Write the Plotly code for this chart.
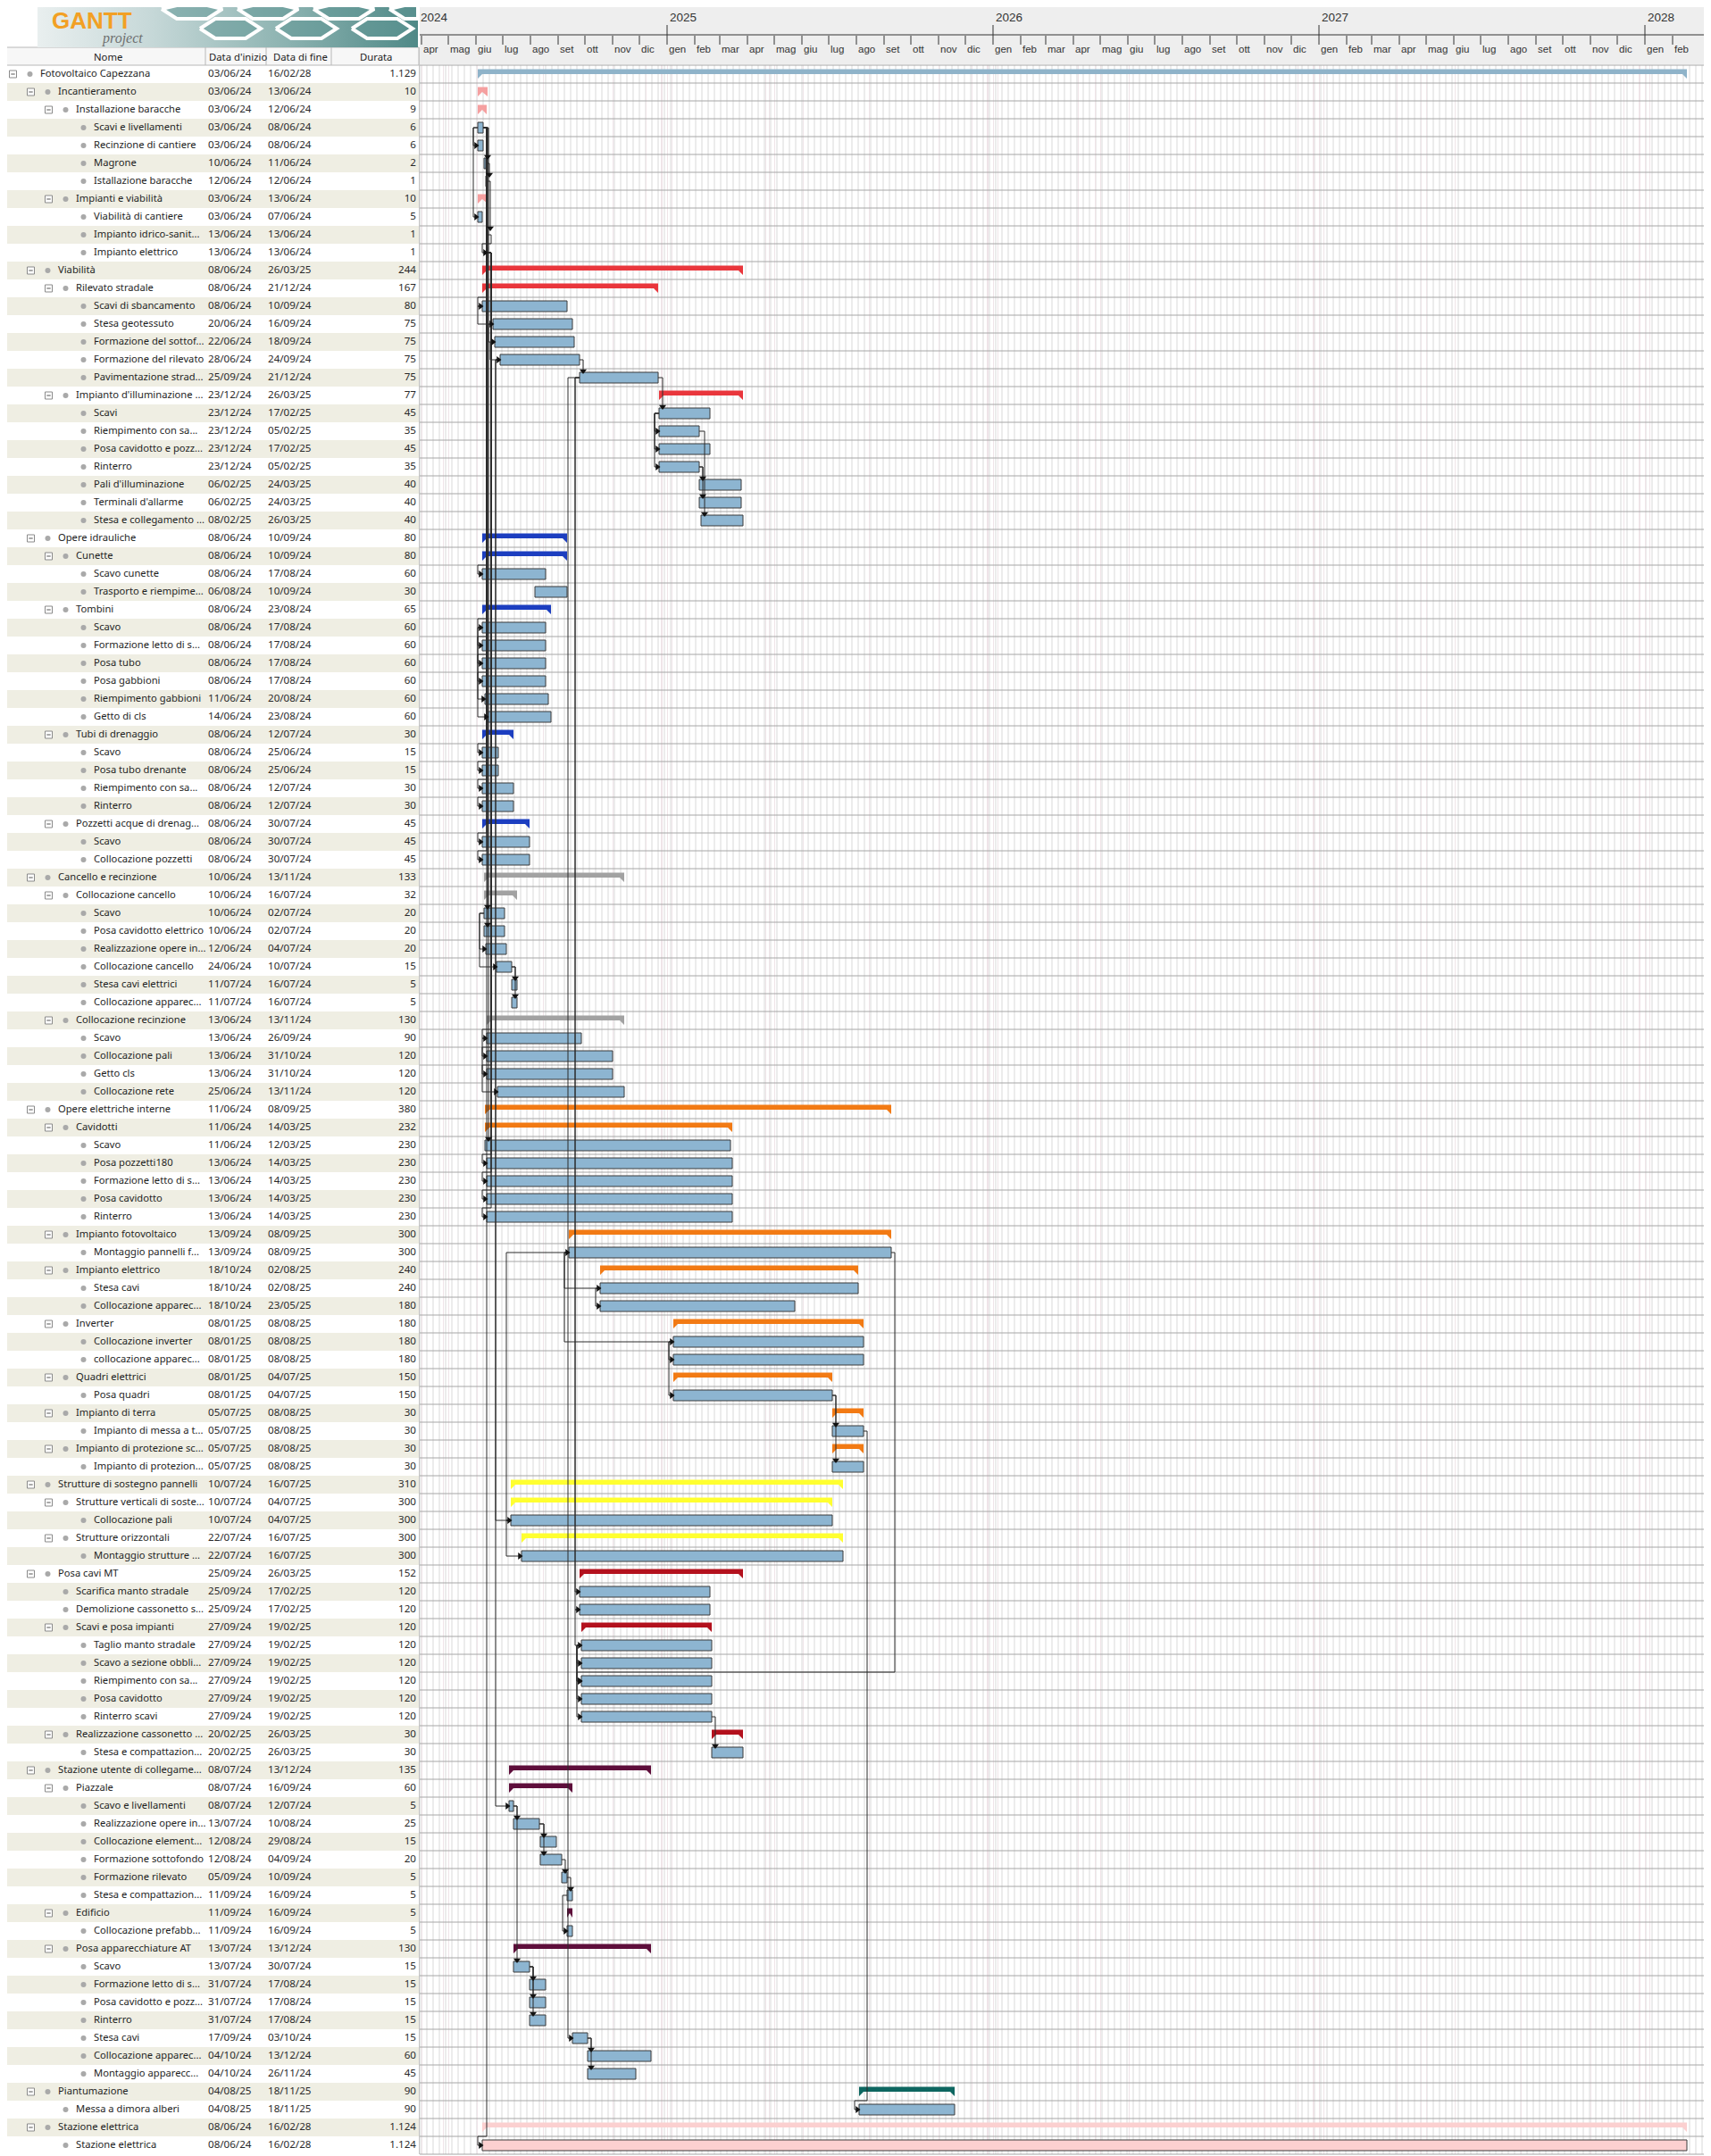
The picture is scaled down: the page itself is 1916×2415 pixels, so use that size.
import pandas as pd
import plotly.graph_objects as go

# ---------------- DATA ----------------
names = [
    "Fotovoltaico Capezzana", "Incantieramento", "Installazione baracche", "Scavi e livellamenti",
    "Recinzione di cantiere", "Magrone", "Istallazione baracche", "Impianti e viabilità",
    "Viabilità di cantiere", "Impianto idrico-sanit...", "Impianto elettrico", "Viabilità",
    "Rilevato stradale", "Scavi di sbancamento", "Stesa geotessuto", "Formazione del sottof...",
    "Formazione del rilevato", "Pavimentazione strad...", "Impianto d'illuminazione ...", "Scavi",
    "Riempimento con sa...", "Posa cavidotto e pozz...", "Rinterro", "Pali d'illuminazione",
    "Terminali d'allarme", "Stesa e collegamento ...", "Opere idrauliche", "Cunette",
    "Scavo cunette", "Trasporto e riempime...", "Tombini", "Scavo",
    "Formazione letto di s...", "Posa tubo", "Posa gabbioni", "Riempimento gabbioni",
    "Getto di cls", "Tubi di drenaggio", "Scavo", "Posa tubo drenante",
    "Riempimento con sa...", "Rinterro", "Pozzetti acque di drenag...", "Scavo",
    "Collocazione pozzetti", "Cancello e recinzione", "Collocazione cancello", "Scavo",
    "Posa cavidotto elettrico", "Realizzazione opere in...", "Collocazione cancello", "Stesa cavi elettrici",
    "Collocazione apparec...", "Collocazione recinzione", "Scavo", "Collocazione pali",
    "Getto cls", "Collocazione rete", "Opere elettriche interne", "Cavidotti",
    "Scavo", "Posa pozzetti180", "Formazione letto di s...", "Posa cavidotto",
    "Rinterro", "Impianto fotovoltaico", "Montaggio pannelli f...", "Impianto elettrico",
    "Stesa cavi", "Collocazione apparec...", "Inverter", "Collocazione inverter",
    "collocazione apparec...", "Quadri elettrici", "Posa quadri", "Impianto di terra",
    "Impianto di messa a t...", "Impianto di protezione sc...", "Impianto di protezion...", "Strutture di sostegno pannelli",
    "Strutture verticali di soste...", "Collocazione pali", "Strutture orizzontali", "Montaggio strutture ...",
    "Posa cavi MT", "Scarifica manto stradale", "Demolizione cassonetto s...", "Scavi e posa impianti",
    "Taglio manto stradale", "Scavo a sezione obbli...", "Riempimento con sa...", "Posa cavidotto",
    "Rinterro scavi", "Realizzazione cassonetto ...", "Stesa e compattazion...", "Stazione utente di collegame...",
    "Piazzale", "Scavo e livellamenti", "Realizzazione opere in...", "Collocazione element...",
    "Formazione sottofondo", "Formazione rilevato", "Stesa e compattazion...", "Edificio",
    "Collocazione prefabb...", "Posa apparecchiature AT", "Scavo", "Formazione letto di s...",
    "Posa cavidotto e pozz...", "Rinterro", "Stesa cavi", "Collocazione apparec...",
    "Montaggio apparecc...", "Piantumazione", "Messa a dimora alberi", "Stazione elettrica",
    "Stazione elettrica",
]

levels = [
    0, 1, 2, 3, 3, 3, 3, 2, 3, 3, 3, 1, 2, 3, 3, 3, 3, 3, 2, 3,
    3, 3, 3, 3, 3, 3, 1, 2, 3, 3, 2, 3, 3, 3, 3, 3, 3, 2, 3, 3,
    3, 3, 2, 3, 3, 1, 2, 3, 3, 3, 3, 3, 3, 2, 3, 3, 3, 3, 1, 2,
    3, 3, 3, 3, 3, 2, 3, 2, 3, 3, 2, 3, 3, 2, 3, 2, 3, 2, 3, 1,
    2, 3, 2, 3, 1, 2, 2, 2, 3, 3, 3, 3, 3, 2, 3, 1, 2, 3, 3, 3,
    3, 3, 3, 2, 3, 2, 3, 3, 3, 3, 3, 3, 3, 1, 2, 1, 2,
]

starts = [
    "03/06/24", "03/06/24", "03/06/24", "03/06/24", "03/06/24", "10/06/24", "12/06/24", "03/06/24",
    "03/06/24", "13/06/24", "13/06/24", "08/06/24", "08/06/24", "08/06/24", "20/06/24", "22/06/24",
    "28/06/24", "25/09/24", "23/12/24", "23/12/24", "23/12/24", "23/12/24", "23/12/24", "06/02/25",
    "06/02/25", "08/02/25", "08/06/24", "08/06/24", "08/06/24", "06/08/24", "08/06/24", "08/06/24",
    "08/06/24", "08/06/24", "08/06/24", "11/06/24", "14/06/24", "08/06/24", "08/06/24", "08/06/24",
    "08/06/24", "08/06/24", "08/06/24", "08/06/24", "08/06/24", "10/06/24", "10/06/24", "10/06/24",
    "10/06/24", "12/06/24", "24/06/24", "11/07/24", "11/07/24", "13/06/24", "13/06/24", "13/06/24",
    "13/06/24", "25/06/24", "11/06/24", "11/06/24", "11/06/24", "13/06/24", "13/06/24", "13/06/24",
    "13/06/24", "13/09/24", "13/09/24", "18/10/24", "18/10/24", "18/10/24", "08/01/25", "08/01/25",
    "08/01/25", "08/01/25", "08/01/25", "05/07/25", "05/07/25", "05/07/25", "05/07/25", "10/07/24",
    "10/07/24", "10/07/24", "22/07/24", "22/07/24", "25/09/24", "25/09/24", "25/09/24", "27/09/24",
    "27/09/24", "27/09/24", "27/09/24", "27/09/24", "27/09/24", "20/02/25", "20/02/25", "08/07/24",
    "08/07/24", "08/07/24", "13/07/24", "12/08/24", "12/08/24", "05/09/24", "11/09/24", "11/09/24",
    "11/09/24", "13/07/24", "13/07/24", "31/07/24", "31/07/24", "31/07/24", "17/09/24", "04/10/24",
    "04/10/24", "04/08/25", "04/08/25", "08/06/24", "08/06/24",
]

ends = [
    "16/02/28", "13/06/24", "12/06/24", "08/06/24", "08/06/24", "11/06/24", "12/06/24", "13/06/24",
    "07/06/24", "13/06/24", "13/06/24", "26/03/25", "21/12/24", "10/09/24", "16/09/24", "18/09/24",
    "24/09/24", "21/12/24", "26/03/25", "17/02/25", "05/02/25", "17/02/25", "05/02/25", "24/03/25",
    "24/03/25", "26/03/25", "10/09/24", "10/09/24", "17/08/24", "10/09/24", "23/08/24", "17/08/24",
    "17/08/24", "17/08/24", "17/08/24", "20/08/24", "23/08/24", "12/07/24", "25/06/24", "25/06/24",
    "12/07/24", "12/07/24", "30/07/24", "30/07/24", "30/07/24", "13/11/24", "16/07/24", "02/07/24",
    "02/07/24", "04/07/24", "10/07/24", "16/07/24", "16/07/24", "13/11/24", "26/09/24", "31/10/24",
    "31/10/24", "13/11/24", "08/09/25", "14/03/25", "12/03/25", "14/03/25", "14/03/25", "14/03/25",
    "14/03/25", "08/09/25", "08/09/25", "02/08/25", "02/08/25", "23/05/25", "08/08/25", "08/08/25",
    "08/08/25", "04/07/25", "04/07/25", "08/08/25", "08/08/25", "08/08/25", "08/08/25", "16/07/25",
    "04/07/25", "04/07/25", "16/07/25", "16/07/25", "26/03/25", "17/02/25", "17/02/25", "19/02/25",
    "19/02/25", "19/02/25", "19/02/25", "19/02/25", "19/02/25", "26/03/25", "26/03/25", "13/12/24",
    "16/09/24", "12/07/24", "10/08/24", "29/08/24", "04/09/24", "10/09/24", "16/09/24", "16/09/24",
    "16/09/24", "13/12/24", "30/07/24", "17/08/24", "17/08/24", "17/08/24", "03/10/24", "13/12/24",
    "26/11/24", "18/11/25", "18/11/25", "16/02/28", "16/02/28",
]

durations = [
    "1.129", "10", "9", "6", "6", "2", "1", "10", "5", "1", "1", "244", "167", "80", "75", "75",
    "75", "75", "77", "45", "35", "45", "35", "40", "40", "40", "80", "80", "60", "30", "65", "60",
    "60", "60", "60", "60", "60", "30", "15", "15", "30", "30", "45", "45", "45", "133", "32", "20",
    "20", "20", "15", "5", "5", "130", "90", "120", "120", "120", "380", "232", "230", "230", "230", "230",
    "230", "300", "300", "240", "240", "180", "180", "180", "180", "150", "150", "30", "30", "30", "30", "310",
    "300", "300", "300", "300", "152", "120", "120", "120", "120", "120", "120", "120", "120", "30", "30", "135",
    "60", "5", "25", "15", "20", "5", "5", "5", "5", "130", "15", "15", "15", "15", "15", "60",
    "45", "90", "90", "1.124", "1.124",
]

# summary colours of the level-1 groups, in order of appearance
group_names = ["Incantieramento", "Viabilità", "Opere idrauliche", "Cancello e recinzione",
               "Opere elettriche interne", "Strutture di sostegno pannelli", "Posa cavi MT",
               "Stazione utente di collegame...", "Piantumazione", "Stazione elettrica"]
group_colors = ["#f5a0a0", "#e9363c", "#1c3ec0", "#a2a2a2", "#f27a14", "#ffff30",
                "#b3111d", "#5e0e3b", "#0d6660", "#fbd0d0"]
project_color = "#8fb3c9"
task_color = "#8db5d1"
task_color_by_group = {"Stazione elettrica": "#fcd0d0"}

# task links (predecessor row, successor row, type)
deps = [
    (3, 4, "SS"), (3, 8, "SS"), (3, 5, "FS"), (5, 6, "FS"), (6, 9, "FS"), (9, 10, "FS"),
    (3, 13, "FS"), (13, 14, "SS"), (14, 15, "SS"), (15, 16, "SS"), (16, 17, "FS"),
    (17, 19, "FS"), (19, 20, "SS"), (19, 21, "SS"), (19, 22, "SS"),
    (22, 23, "FS"), (22, 24, "FS"), (20, 25, "FS"),
    (3, 28, "FS"), (3, 31, "FS"), (3, 32, "FS"), (3, 33, "FS"), (3, 34, "FS"),
    (31, 35, "SS"), (31, 36, "SS"),
    (3, 38, "FS"), (3, 39, "FS"), (3, 40, "FS"), (3, 41, "FS"), (3, 43, "FS"), (3, 44, "FS"),
    (3, 47, "FS"), (3, 48, "FS"), (47, 49, "SS"), (47, 50, "SS"), (50, 51, "FS"), (50, 52, "FS"),
    (10, 54, "FS"), (10, 55, "FS"), (10, 56, "FS"), (54, 57, "SS"),
    (3, 60, "FS"), (10, 61, "FS"), (10, 62, "FS"), (10, 63, "FS"), (10, 64, "FS"),
    (81, 66, "SS"), (66, 68, "SS"), (68, 69, "SS"), (66, 71, "SS"), (71, 72, "SS"), (71, 74, "SS"),
    (74, 76, "FS"), (74, 78, "FS"), (66, 90, "FS"),
    (16, 81, "SS"), (81, 83, "SS"),
    (17, 85, "SS"), (17, 86, "SS"), (86, 88, "SS"), (88, 89, "SS"), (88, 90, "SS"),
    (88, 91, "SS"), (88, 92, "SS"), (92, 94, "FS"),
    (16, 97, "SS"), (97, 98, "FS"), (98, 99, "FS"), (98, 100, "FS"), (100, 101, "FS"),
    (101, 102, "FS"), (102, 104, "SS"), (97, 106, "FS"), (106, 107, "FS"), (106, 108, "FS"),
    (106, 109, "FS"), (17, 110, "SS"), (110, 111, "FS"), (110, 112, "FS"),
    (76, 114, "FS"), (3, 116, "FS"),
]

# timeline header labels
month_names = ["gen", "feb", "mar", "apr", "mag", "giu", "lug", "ago", "set", "ott", "nov", "dic"]
year_labels = ["2024", "2025", "2026", "2027", "2028"]
holidays = [
    "2024-04-01", "2024-04-25", "2024-05-01", "2024-06-02", "2024-08-15", "2024-11-01", "2024-12-08",
    "2024-12-25", "2024-12-26", "2025-01-01", "2025-01-06", "2025-04-21", "2025-04-25", "2025-05-01",
    "2025-06-02", "2025-08-15", "2025-11-01", "2025-12-08", "2025-12-25", "2025-12-26", "2026-01-01",
    "2026-01-06", "2026-04-06", "2026-04-25", "2026-05-01", "2026-06-02", "2026-08-15", "2026-11-01",
    "2026-12-08", "2026-12-25", "2026-12-26", "2027-01-01", "2027-01-06", "2027-03-29", "2027-04-25",
    "2027-05-01", "2027-06-02", "2027-08-15", "2027-11-01", "2027-12-08", "2027-12-25", "2027-12-26",
    "2028-01-01", "2028-01-06",
]

# ---------------- LAYOUT CONSTANTS ----------------
# The page body has an 8px default margin; the figure is sized so it fills the
# remaining viewport exactly, and all coordinates below are page pixels.
PAGE_W, PAGE_H = 1916, 2415
OFF = 8
W, H = PAGE_W - OFF, PAGE_H - OFF
TABLE_W = 470
ROW_PX = 20
D0 = pd.Timestamp("2024-03-30")
D1 = D0 + pd.Timedelta(days=PAGE_W - TABLE_W)
FONT = "Noto Sans, Open Sans, sans-serif"
HFONT = "Liberation Sans Narrow, Arial Narrow, Liberation Sans, sans-serif"
TXT = 11.6
NTXT = 11.2


def ypx(p):
    return -0.5 + (p - 73) / ROW_PX


Y_TOP = ypx(OFF)
Y_BOT = ypx(PAGE_H)


def day(n):
    return pd.Timedelta(days=n)


def ds(t):
    return t.strftime("%Y-%m-%d %H:%M")


n = len(names)
S = list(pd.to_datetime(starts, format="%d/%m/%y"))
E = [t + day(1) for t in pd.to_datetime(ends, format="%d/%m/%y")]
is_summary = [i + 1 < n and levels[i + 1] > levels[i] for i in range(n)]
row_group = []
g = -1
for i in range(n):
    if levels[i] == 1:
        g += 1
    row_group.append(g)
row_color = [project_color if levels[i] == 0 else group_colors[row_group[i]] for i in range(n)]

fig = go.Figure()
shapes = []
annotations = []

# ---- background: weekends & holidays in chart area ----
for sat in pd.date_range(D0, D1, freq="W-SAT"):
    shapes.append(dict(type="rect", xref="x", yref="y", x0=sat, x1=sat + day(2), y0=-0.5, y1=n - 0.5,
                       fillcolor="#ececec", line=dict(width=0), layer="below"))
for h in holidays:
    t = pd.Timestamp(h)
    shapes.append(dict(type="rect", xref="x", yref="y", x0=t, x1=t + day(1), y0=-0.5, y1=n - 0.5,
                       fillcolor="#efe4e8", line=dict(width=0), layer="below"))

# ---- table zebra rows ----
for i in range(n):
    if i % 2 == 1:
        shapes.append(dict(type="rect", xref="x2", yref="y", x0=7, x1=469, y0=i - 0.5, y1=i + 0.5,
                           fillcolor="#efeee3", line=dict(width=0), layer="below"))

# ---- header backgrounds ----
shapes.append(dict(type="rect", xref="x", yref="y", x0=D0, x1=D1, y0=ypx(6), y1=-0.55,
                   fillcolor="#eeeeee", line=dict(width=0), layer="below"))
shapes.append(dict(type="rect", xref="x2", yref="y", x0=7, x1=469, y0=ypx(53), y1=-0.5,
                   fillcolor="#f7f7f7", line=dict(color="#b8b8b8", width=1), layer="below"))
for xs in [230, 298, 371]:
    shapes.append(dict(type="line", xref="x2", yref="y", x0=xs, x1=xs, y0=ypx(53), y1=-0.5,
                       line=dict(color="#b8b8b8", width=1)))
shapes.append(dict(type="line", xref="x2", yref="y", x0=469.5, x1=469.5, y0=ypx(53), y1=n - 0.5,
                   line=dict(color="#c4c4c4", width=1)))

# ---- banner (logo area) ----
fig.add_trace(go.Scatter(
    x=[42, 468, 468, 42, 42], y=[ypx(6), ypx(6), ypx(53), ypx(53), ypx(6)],
    fill="toself", mode="lines", line=dict(width=0),
    fillgradient=dict(type="horizontal",
                      colorscale=[[0, "#e9efef"], [0.3, "#c6d8d8"], [0.65, "#8db3b1"], [1, "#4f8987"]]),
    xaxis="x2", yaxis="y", hoverinfo="skip", showlegend=False))
hex_centers = [(215, 10), (300, 10), (385, 10), (258, 32), (343, 32), (428, 32), (470, 10)]
hx, hy = [], []
for cx, cy in hex_centers:
    w2, w4, h2 = 34, 17, 11
    pts = [(cx - w2, cy), (cx - w4, cy - h2), (cx + w4, cy - h2), (cx + w2, cy), (cx + w4, cy + h2),
           (cx - w4, cy + h2), (cx - w2, cy)]
    for px_, py_ in pts:
        hx.append(min(max(px_, 42), 468))
        hy.append(ypx(min(max(py_, 6), 53)))
    hx.append(None)
    hy.append(None)
fig.add_trace(go.Scatter(x=hx, y=hy, mode="lines", fill="toself", fillcolor="rgba(95,150,148,0.55)",
                         line=dict(color="white", width=4), xaxis="x2", yaxis="y",
                         hoverinfo="skip", showlegend=False))
annotations.append(dict(x=56, y=ypx(23), xref="x2", yref="y", text="<b>GANTT</b>", showarrow=False,
                        xanchor="left", font=dict(family="Liberation Sans", size=26, color="#f2a024")))
annotations.append(dict(x=112, y=ypx(43), xref="x2", yref="y", text="<i>project</i>", showarrow=False,
                        xanchor="left", font=dict(family="Liberation Serif", size=16, color="#6e7070")))

# ---- table header text ----
HTXT = 11.3
annotations.append(dict(x=121, y=ypx(63), xref="x2", yref="y", text="Nome", showarrow=False,
                        font=dict(family=FONT, size=HTXT, color="#222")))
annotations.append(dict(x=232, y=ypx(63), xref="x2", yref="y", text="Data d'inizio", showarrow=False,
                        xanchor="left", font=dict(family=FONT, size=HTXT, color="#222")))
annotations.append(dict(x=304, y=ypx(63), xref="x2", yref="y", text="Data di fine", showarrow=False,
                        xanchor="left", font=dict(family=FONT, size=HTXT, color="#222")))
annotations.append(dict(x=421, y=ypx(63), xref="x2", yref="y", text="Durata", showarrow=False,
                        font=dict(family=FONT, size=HTXT, color="#222")))

# ---- expand boxes ----
for i in range(n):
    if is_summary[i]:
        cx = 14.5 + 20 * levels[i]
        shapes.append(dict(type="rect", xref="x2", yref="y", x0=cx - 4, x1=cx + 4, y0=i - 0.2, y1=i + 0.2,
                           fillcolor="white", line=dict(color="#8a8a8a", width=1)))
        shapes.append(dict(type="line", xref="x2", yref="y", x0=cx - 2.2, x1=cx + 2.2, y0=i, y1=i,
                           line=dict(color="#555", width=1)))

# ---- table text ----
rows = list(range(n))
fig.add_trace(go.Scatter(x=[33.5 + 20 * levels[i] for i in rows], y=rows, mode="markers",
                         marker=dict(size=6, color="#a9a9a9"), xaxis="x2", yaxis="y",
                         hoverinfo="skip", showlegend=False))
fig.add_trace(go.Scatter(x=[45 + 20 * levels[i] for i in rows], y=rows, mode="text", text=names,
                         textposition="middle right", textfont=dict(family=FONT, size=NTXT, color="#1e1e1e"),
                         xaxis="x2", yaxis="y", hoverinfo="skip", showlegend=False))
fig.add_trace(go.Scatter(x=[233] * n, y=rows, mode="text", text=starts, textposition="middle right",
                         textfont=dict(family=FONT, size=TXT, color="#2a2a2a"),
                         xaxis="x2", yaxis="y", hoverinfo="skip", showlegend=False))
fig.add_trace(go.Scatter(x=[300] * n, y=rows, mode="text", text=ends, textposition="middle right",
                         textfont=dict(family=FONT, size=TXT, color="#2a2a2a"),
                         xaxis="x2", yaxis="y", hoverinfo="skip", showlegend=False))
fig.add_trace(go.Scatter(x=[466] * n, y=rows, mode="text", text=durations, textposition="middle left",
                         textfont=dict(family=FONT, size=TXT, color="#2a2a2a"),
                         xaxis="x2", yaxis="y", hoverinfo="skip", showlegend=False))

# ---- row separator lines in chart ----
lx, ly = [], []
for b in range(-1, n):
    lx += [D0, D1, None]
    ly += [b + 0.5, b + 0.5, None]
fig.add_trace(go.Scatter(x=lx, y=ly, mode="lines", line=dict(color="#a6a6a6", width=1),
                         xaxis="x", yaxis="y", hoverinfo="skip", showlegend=False))

# ---- timeline header ----
months = [m for m in pd.date_range("2024-04-01", D1, freq="MS") if m + day(20) <= D1]
tx, ty = [D0, D1, None], [ypx(39), ypx(39), None]
for m in months:
    top = ypx(28) if m.month == 1 else ypx(40)
    tx += [m, m, None]
    ty += [top, ypx(50), None]
fig.add_trace(go.Scatter(x=tx, y=ty, mode="lines", line=dict(color="#333", width=1),
                         xaxis="x", yaxis="y", hoverinfo="skip", showlegend=False))
fig.add_trace(go.Scatter(x=[m + day(2) for m in months], y=[ypx(56)] * len(months), mode="text",
                         text=[month_names[m.month - 1] for m in months], textposition="middle right",
                         textfont=dict(family=HFONT, size=11.5, color="#333"),
                         xaxis="x", yaxis="y", hoverinfo="skip", showlegend=False))
year_pos = [D0 + day(1)] + [pd.Timestamp(f"{y}-01-01") + day(3) for y in year_labels[1:]]
fig.add_trace(go.Scatter(x=year_pos, y=[ypx(21)] * len(year_labels), mode="text", text=year_labels,
                         textposition="middle right", textfont=dict(family=HFONT, size=13.5, color="#333"),
                         xaxis="x", yaxis="y", hoverinfo="skip", showlegend=False))

# ---- summary bars ----
for col in dict.fromkeys(row_color):
    px_, py_ = [], []
    for i in range(n):
        if is_summary[i] and row_color[i] == col:
            s, e = S[i], E[i]
            tip = min(day(5), (e - s) / 2)
            pts = [(s, i - 0.28), (e, i - 0.28), (e, i + 0.25), (e - tip, i - 0.0),
                   (s + tip, i - 0.0), (s, i + 0.25), (s, i - 0.28)]
            for a, b in pts:
                px_.append(ds(a))
                py_.append(b)
            px_.append(None)
            py_.append(None)
    if px_:
        fig.add_trace(go.Scatter(x=px_, y=py_, mode="lines", fill="toself", fillcolor=col,
                                 line=dict(width=0, color=col), xaxis="x", yaxis="y",
                                 hoverinfo="skip", showlegend=False))

# ---- task bars ----
task_rows = [i for i in range(n) if not is_summary[i]]
fig.add_trace(go.Bar(
    orientation="h", y=task_rows,
    base=[ds(S[i]) for i in task_rows],
    x=[(E[i] - S[i]).total_seconds() * 1000 for i in task_rows],
    width=0.6,
    marker=dict(color=[task_color_by_group.get(group_names[row_group[i]], task_color) for i in task_rows],
                line=dict(color="#3a3a3a", width=1)),
    xaxis="x", yaxis="y", hoverinfo="skip", showlegend=False))

# ---- dependency links ----
dx_, dy_ = [], []
ar_x, ar_y, ad_x, ad_y = [], [], [], []
for p, s, kind in deps:
    ps, pe, ss = S[p], E[p], S[s]
    if kind == "SS":
        x0 = min(ps, ss) - day(5)
        pts = [(ps, p), (x0, p), (x0, s), (ss, s)]
        ar_x.append(ds(ss - day(2)))
        ar_y.append(s)
    elif ss >= pe:
        xv = ss + day(4)
        pts = [(pe, p), (xv, p), (xv, s - 0.3)]
        ad_x.append(ds(xv))
        ad_y.append(s - 0.38)
    else:
        xa, xb = pe + day(4), ss - day(5)
        pts = [(pe, p), (xa, p), (xa, s - 0.5), (xb, s - 0.5), (xb, s), (ss, s)]
        ar_x.append(ds(ss - day(2)))
        ar_y.append(s)
    for a, b in pts:
        dx_.append(ds(a))
        dy_.append(b)
    dx_.append(None)
    dy_.append(None)
fig.add_trace(go.Scatter(x=dx_, y=dy_, mode="lines", line=dict(color="#2a2a2a", width=1),
                         xaxis="x", yaxis="y", hoverinfo="skip", showlegend=False))
fig.add_trace(go.Scatter(x=ar_x, y=ar_y, mode="markers",
                         marker=dict(symbol="triangle-right", size=7, color="#111"),
                         xaxis="x", yaxis="y", hoverinfo="skip", showlegend=False))
fig.add_trace(go.Scatter(x=ad_x, y=ad_y, mode="markers",
                         marker=dict(symbol="triangle-down", size=7, color="#111"),
                         xaxis="x", yaxis="y", hoverinfo="skip", showlegend=False))

split = (TABLE_W - OFF) / W
fig.update_layout(
    width=W, height=H, margin=dict(l=0, r=0, t=0, b=0),
    paper_bgcolor="white", plot_bgcolor="white", showlegend=False,
    barmode="overlay",
    xaxis=dict(type="date", range=[D0, D1], domain=[split, 1], anchor="y", visible=False),
    xaxis2=dict(type="linear", range=[OFF, TABLE_W], domain=[0, split], anchor="y", visible=False),
    yaxis=dict(range=[Y_BOT, Y_TOP], domain=[0, 1], anchor="x", visible=False),
    shapes=shapes, annotations=annotations,
)
fig.write_html("out.html")
